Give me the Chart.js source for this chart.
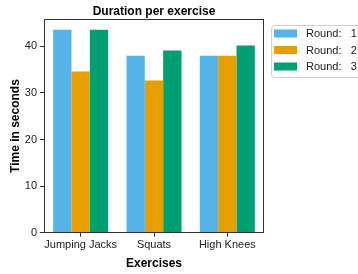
<!DOCTYPE html>
<html>
<head>
<meta charset="utf-8">
<script src="https://cdn.jsdelivr.net/npm/chart.js@4"></script>
<style>
  html, body { margin: 0; padding: 0; background: #fff; }
  #wrap { width: 358px; height: 274px; }
</style>
</head>
<body>
<div id="wrap"><canvas id="graphic" width="358" height="274"></canvas></div>
<script>
const exercises = ['Jumping Jacks', 'Squats', 'High Knees'];
const round1 = [43.6, 38.0, 38.0];
const round2 = [34.6, 32.7, 38.0];
const round3 = [43.6, 39.1, 40.2];
const roundLabels = ['Round:   1', 'Round:   2', 'Round:   3'];
const yTicks = [0, 10, 20, 30, 40];

const colors = ['#56B4E9', '#E69F00', '#009E73'];
const textColor = '#222';
const fontFamily = 'Liberation Sans, Arial, sans-serif';

// box around plot area + legend on the right, like matplotlib
const framePlugin = {
    id: 'frame',
    afterDraw(chart) {
        const ctx = chart.ctx;
        const a = chart.chartArea;
        ctx.save();
        ctx.strokeStyle = '#333';
        ctx.lineWidth = 1;
        ctx.strokeRect(Math.round(a.left) + 0.5, Math.round(a.top) + 0.5,
            Math.round(a.right - a.left) - 1, Math.round(a.bottom - a.top));

        // legend
        const lx = 271.5, ly = 25.5, lw = 92, lh = 52;
        ctx.strokeStyle = '#d0d0d0';
        ctx.fillStyle = 'rgba(255,255,255,0.8)';
        ctx.beginPath();
        ctx.roundRect(lx, ly, lw, lh, 3);
        ctx.fill();
        ctx.stroke();
        ctx.font = '11px ' + fontFamily;
        ctx.textBaseline = 'middle';
        ctx.textAlign = 'left';
        chart.data.datasets.forEach((ds, i) => {
            const cy = 33.5 + i * 16.5;
            ctx.fillStyle = ds.backgroundColor;
            ctx.fillRect(274, cy - 4, 23, 8);
            ctx.fillStyle = textColor;
            ctx.fillText(ds.label, 306, cy + 0.5);
        });
        ctx.restore();
    }
};

const chart = new Chart(document.getElementById('graphic'), {
    type: 'bar',
    data: {
        labels: exercises,
        datasets: [round1, round2, round3].map((d, i) => ({
            label: roundLabels[i],
            data: d,
            backgroundColor: colors[i],
            borderWidth: 0,
            categoryPercentage: 0.75,
            barPercentage: 1
        }))
    },
    options: {
        responsive: false,
        animation: false,
        devicePixelRatio: 1,
        layout: { padding: { top: 0, right: 94, bottom: 0, left: 0 } },
        plugins: {
            legend: { display: false },
            tooltip: { enabled: false },
            title: {
                display: true,
                text: 'Duration per exercise',
                fullSize: false,
                color: '#000',
                font: { family: fontFamily, size: 12, weight: 'bold', lineHeight: 1.2 },
                padding: { top: 4, bottom: 1 }
            }
        },
        scales: {
            x: {
                offset: true,
                grid: { display: true, drawOnChartArea: false, offset: false, tickLength: 4, color: '#333' },
                border: { display: false },
                ticks: {
                    color: textColor, padding: 2, autoSkip: false,
                    maxRotation: 0, minRotation: 0,
                    font: { family: fontFamily, size: 11 }
                },
                title: {
                    display: true, text: 'Exercises', color: '#000',
                    font: { family: fontFamily, size: 12, weight: 'bold', lineHeight: 1.2 },
                    padding: { top: 4, bottom: 3 }
                },
                afterFit(scale) { scale.height = 41.3; }
            },
            y: {
                min: 0,
                max: 45.8,
                grid: { display: true, drawOnChartArea: false, tickLength: 4, color: '#333' },
                border: { display: false },
                ticks: {
                    stepSize: 10,
                    includeBounds: false,
                    color: textColor,
                    padding: 3,
                    font: { family: fontFamily, size: 11 }
                },
                afterBuildTicks(scale) {
                    scale.ticks = yTicks.map(v => ({ value: v }));
                },
                title: {
                    display: true, text: 'Time in seconds', color: '#000',
                    font: { family: fontFamily, size: 12, weight: 'bold', lineHeight: 1.2 },
                    padding: { top: 8, bottom: 0 }
                },
                afterFit(scale) { scale.width = 44; }
            }
        }
    },
    plugins: [framePlugin]
});
</script>
</body>
</html>
